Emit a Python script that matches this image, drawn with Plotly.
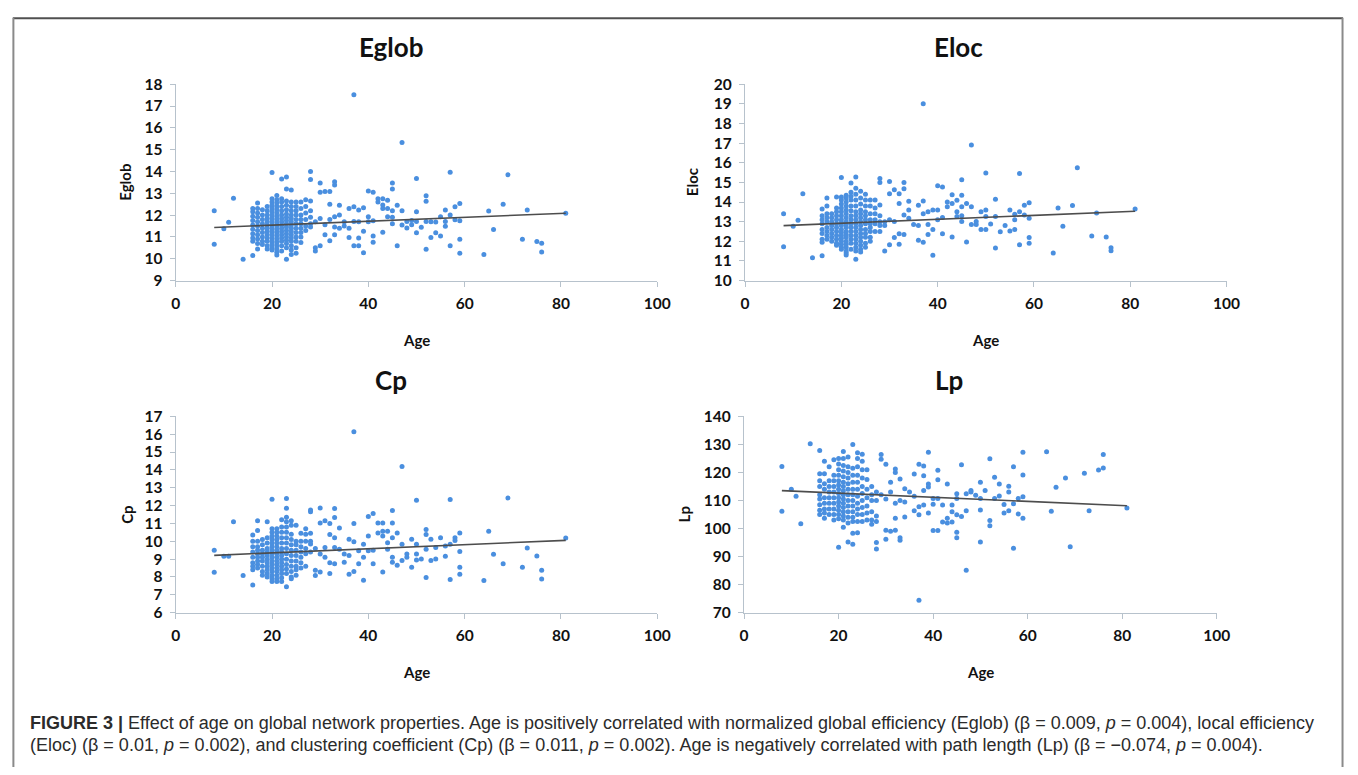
import plotly.graph_objects as go

W, H = 1358, 775

# ---------------- data ----------------
eglob = {
    8: [12.2, 10.67], 10: [11.38], 11: [11.67], 12: [12.77], 14: [9.98],
    16: [12.3, 12.15, 11.95, 11.75, 11.55, 11.35, 11.15, 10.95, 10.8, 10.15],
    17: [12.55, 12.3, 12.1, 11.9, 11.7, 11.5, 11.3, 11.1, 10.9, 10.7, 10.45],
    18: [12.25, 12.0, 11.8, 11.6, 11.4, 11.2, 11.0, 10.8, 10.65],
    19: [12.4, 12.2, 12.0, 11.85, 11.7, 11.55, 11.4, 11.25, 11.1, 10.95, 10.8, 10.6, 10.45],
    20: [13.95, 12.75, 12.6, 12.45, 12.3, 12.15, 12.0, 11.85, 11.7, 11.55, 11.4, 11.25, 11.1, 10.95, 10.8, 10.65, 10.5, 10.4],
    21: [12.9, 12.7, 12.55, 12.4, 12.25, 12.1, 11.95, 11.8, 11.65, 11.5, 11.35, 11.2, 11.05, 10.9, 10.75, 10.6, 10.45, 10.3, 10.17],
    22: [13.65, 12.75, 12.6, 12.4, 12.2, 12.0, 11.85, 11.7, 11.55, 11.4, 11.25, 11.1, 10.95, 10.8, 10.6, 10.35],
    23: [13.75, 13.2, 12.65, 12.45, 12.25, 12.05, 11.9, 11.75, 11.6, 11.45, 11.3, 11.15, 11.0, 10.85, 10.7, 10.5, 9.98],
    24: [13.15, 12.6, 12.4, 12.2, 12.0, 11.85, 11.7, 11.55, 11.4, 11.25, 11.1, 10.95, 10.8, 10.6, 10.4, 10.2],
    25: [12.6, 12.4, 12.2, 12.0, 11.8, 11.6, 11.4, 11.2, 11.0, 10.8, 10.5, 10.25],
    26: [12.6, 12.3, 12.0, 11.8, 11.6, 11.4, 11.2, 11.0, 10.75],
    27: [12.7, 12.4, 12.1, 11.8, 11.5, 11.3],
    28: [14.0, 13.63, 12.65, 12.2, 11.9, 11.6, 11.45],
    29: [11.7, 10.5, 10.35], 30: [13.47, 13.05, 11.85, 10.6], 31: [13.08, 11.56, 11.1],
    32: [13.08, 12.5, 11.8, 10.82], 33: [13.53, 13.38, 11.93, 11.45, 11.1], 34: [12.45, 12.0, 11.4],
    35: [11.7, 11.5], 36: [12.3, 11.4, 10.97], 37: [17.52, 12.38, 11.71, 10.6],
    38: [12.23, 11.7, 10.95, 10.6], 39: [12.34, 11.26, 10.28], 40: [13.1, 11.93, 11.7],
    41: [13.05, 11.74, 11.04, 10.76], 42: [12.75, 12.6], 43: [12.75, 12.46, 12.3, 11.22],
    44: [12.68, 12.3, 11.93], 45: [13.47, 13.2, 12.2, 11.9, 11.6], 46: [12.45, 10.6],
    47: [15.33, 12.2, 11.55], 48: [11.71, 11.41], 49: [11.56, 11.75],
    50: [13.68, 12.16, 11.71, 11.19], 51: [11.44], 52: [12.89, 12.63, 11.71, 10.44],
    53: [10.97, 11.7], 54: [11.68, 11.19], 55: [11.93, 11.04], 56: [12.23, 11.71, 11.49],
    57: [13.97, 12.0, 10.6], 58: [12.38, 11.79], 59: [12.53, 11.74, 10.89, 10.25],
    64: [10.19], 65: [12.19], 66: [11.34], 68: [12.5], 69: [13.85], 72: [10.89],
    73: [12.23], 75: [10.79], 76: [10.71, 10.31], 81: [12.08],
}

eloc = {
    8: [13.4, 11.72], 10: [12.77], 11: [13.07], 12: [14.42], 14: [11.16],
    16: [13.65, 13.3, 13.1, 12.9, 12.6, 12.4, 12.1, 11.95, 11.27],
    17: [14.2, 13.8, 13.4, 13.2, 13.0, 12.7, 12.5, 12.3, 12.1],
    18: [13.4, 13.2, 13.0, 12.8, 12.6, 12.4, 12.2, 12.0],
    19: [14.25, 13.7, 13.5, 13.3, 13.1, 12.9, 12.7, 12.5, 12.3, 12.1, 11.9, 11.8],
    20: [15.25, 14.25, 14.1, 13.9, 13.7, 13.5, 13.3, 13.1, 12.95, 12.8, 12.6, 12.45, 12.3, 12.15, 12.0, 11.85, 11.7, 11.6],
    21: [14.35, 14.2, 14.0, 13.8, 13.6, 13.4, 13.2, 13.0, 12.85, 12.7, 12.5, 12.35, 12.2, 12.0, 11.85, 11.7, 11.5, 11.4, 11.3],
    22: [14.97, 14.5, 14.3, 14.1, 13.8, 13.55, 13.3, 13.1, 12.9, 12.7, 12.5, 12.3, 12.1, 11.9, 11.6],
    23: [15.28, 14.7, 14.4, 14.1, 13.8, 13.5, 13.3, 13.1, 12.9, 12.7, 12.5, 12.3, 12.1, 11.9, 11.7, 11.5, 11.08],
    24: [14.55, 14.2, 13.9, 13.6, 13.4, 13.2, 13.0, 12.8, 12.6, 12.4, 12.2, 12.0, 11.8, 11.6, 11.45],
    25: [14.4, 14.1, 13.8, 13.5, 13.3, 13.1, 12.9, 12.6, 12.4, 12.2, 11.9, 11.7],
    26: [14.1, 13.8, 13.4, 13.1, 12.9, 12.7, 12.5, 12.2, 12.0],
    27: [14.1, 13.7, 13.4, 13.1, 12.9, 12.5],
    28: [15.2, 15.0, 13.85, 13.3, 13.0, 12.8, 12.5],
    29: [13.0, 12.8, 11.5], 30: [15.05, 14.42, 13.1, 11.82], 31: [14.62, 13.01, 12.19],
    32: [14.42, 13.92, 12.38, 11.85], 33: [15.0, 14.67, 13.34, 12.35], 34: [14.04, 13.59, 13.18],
    35: [12.85], 36: [13.84, 12.8, 12.05], 37: [19.0, 14.05, 13.4, 11.95],
    38: [13.51, 12.85, 12.35], 39: [13.59, 12.6, 11.29], 40: [14.83, 13.59, 13.1],
    41: [14.77, 13.21, 12.38], 42: [14.0, 13.76], 43: [14.37, 13.92, 12.22],
    44: [14.09, 13.51, 13.26], 45: [15.13, 14.34, 13.76, 13.3, 13.01], 46: [13.92, 11.97],
    47: [16.9, 13.76, 12.85], 48: [13.01, 12.85], 49: [13.51, 12.6],
    50: [15.48, 13.59, 13.26, 12.6], 51: [12.88], 52: [14.14, 13.26, 11.66],
    53: [12.48], 54: [12.81], 55: [13.59, 12.52], 56: [13.38, 13.1, 12.6],
    57: [15.45, 13.51, 11.82], 58: [13.84, 13.34], 59: [13.96, 13.18, 12.19, 11.9],
    64: [11.4], 65: [13.69], 66: [12.77], 68: [13.82], 69: [15.75], 72: [12.27],
    73: [13.44], 75: [12.22], 76: [11.67, 11.52], 81: [13.64],
}

cp = {
    8: [9.5, 8.26], 10: [9.16], 11: [9.16], 12: [11.1], 14: [8.08],
    16: [10.35, 10.0, 9.7, 9.4, 9.1, 8.8, 8.6, 8.4, 7.55],
    17: [11.15, 10.6, 10.0, 9.7, 9.5, 9.3, 9.1, 8.9, 8.7, 8.5],
    18: [10.1, 9.8, 9.5, 9.3, 9.1, 8.9, 8.6, 8.3, 8.1],
    19: [11.1, 10.2, 9.9, 9.6, 9.4, 9.2, 9.0, 8.8, 8.6, 8.4, 8.2, 8.0],
    20: [12.36, 10.7, 10.5, 10.3, 10.1, 9.9, 9.7, 9.5, 9.3, 9.1, 8.9, 8.7, 8.5, 8.3, 8.1, 7.9, 7.75],
    21: [10.7, 10.5, 10.3, 10.1, 9.9, 9.7, 9.5, 9.3, 9.1, 8.9, 8.7, 8.5, 8.3, 8.1, 7.9, 7.75],
    22: [11.2, 10.8, 10.5, 10.2, 9.9, 9.6, 9.4, 9.2, 9.0, 8.8, 8.6, 8.4, 8.2, 7.95, 7.75],
    23: [12.4, 11.85, 11.35, 11.1, 10.8, 10.5, 10.2, 9.9, 9.6, 9.3, 9.0, 8.7, 8.45, 8.2, 7.45],
    24: [11.15, 10.9, 10.4, 10.1, 9.8, 9.5, 9.2, 8.9, 8.6, 8.3, 8.0, 7.9],
    25: [10.9, 10.0, 9.8, 9.5, 9.2, 8.9, 8.6, 8.4, 8.1],
    26: [10.45, 10.0, 9.7, 9.4, 9.1, 8.8, 8.5],
    27: [10.7, 10.4, 10.0, 9.6, 9.3, 8.6],
    28: [11.75, 11.65, 10.45, 10.0, 9.85, 9.4],
    29: [9.6, 8.37, 8.08], 30: [11.86, 11.02, 9.29, 8.28], 31: [11.15, 9.65, 9.1],
    32: [10.99, 10.38, 8.8, 8.19], 33: [11.84, 11.33, 10.2, 9.65, 8.74], 34: [10.75, 9.56],
    35: [9.29, 8.83], 36: [10.11, 9.2, 8.15], 37: [16.14, 10.99, 9.98, 8.3],
    38: [9.47, 8.74], 39: [9.83, 9.1, 7.82], 40: [11.39, 10.3, 9.47],
    41: [11.55, 9.5, 8.74], 42: [11.02, 10.47], 43: [11.02, 10.56, 10.3, 8.28],
    44: [10.56, 9.92, 9.56], 45: [11.72, 11.02, 10.2, 9.1, 8.83], 46: [10.47, 8.65],
    47: [14.19, 9.83, 8.92], 48: [9.29, 9.1], 49: [10.11, 8.55],
    50: [12.3, 9.83, 9.29, 8.95], 51: [9.01], 52: [10.66, 10.38, 9.56, 7.97],
    53: [10.11, 8.92], 54: [9.65, 9.01], 55: [10.2], 56: [9.74, 9.16],
    57: [12.34, 9.83, 7.86], 58: [10.2, 10.05], 59: [10.47, 9.43, 8.55, 8.15],
    64: [7.8], 65: [10.56], 66: [9.27], 68: [8.74], 69: [12.43], 72: [8.55],
    73: [9.63], 75: [9.18], 76: [8.37, 7.88], 81: [10.18],
}

lp = {
    8: [122.1, 106.2], 10: [114.0], 11: [111.5], 12: [101.7], 14: [130.2],
    16: [127.8, 119.5, 117.0, 115.0, 112.0, 110.5, 108.5, 106.5, 105.0],
    17: [124.0, 119.5, 116.0, 114.0, 111.0, 109.0, 107.0, 105.5, 103.7],
    18: [122.0, 117.0, 115.0, 113.0, 111.0, 109.0, 107.0, 105.0],
    19: [124.5, 119.0, 117.0, 115.0, 113.0, 111.0, 109.0, 107.0, 105.0, 103.0],
    20: [125.0, 123.0, 121.0, 119.0, 117.0, 115.5, 114.0, 112.5, 111.0, 109.5, 108.0, 106.5, 105.0, 103.5, 93.3],
    21: [127.5, 125.0, 122.5, 120.5, 118.5, 116.5, 115.0, 113.5, 112.0, 110.5, 109.0, 107.5, 106.0, 104.5, 103.0, 100.5],
    22: [125.5, 122.0, 120.0, 118.0, 116.0, 114.0, 112.0, 110.0, 108.0, 106.0, 104.0, 102.0, 95.2],
    23: [130.0, 121.5, 119.0, 116.5, 114.0, 112.0, 110.0, 108.0, 106.0, 104.0, 102.5, 98.3, 94.4],
    24: [127.0, 125.0, 122.0, 119.0, 116.5, 114.0, 111.5, 109.0, 107.0, 105.0, 102.5, 98.5],
    25: [126.5, 124.0, 121.0, 118.0, 115.0, 112.5, 110.0, 107.5, 105.0, 102.5],
    26: [121.0, 117.5, 114.0, 111.0, 108.0, 105.5, 103.0],
    27: [115.0, 112.0, 110.0, 106.0, 103.0, 101.5],
    28: [113.0, 110.0, 104.5, 102.5, 95.0, 92.7],
    29: [126.4, 124.7, 112.0], 30: [122.9, 110.5, 99.4, 96.2], 31: [116.5, 113.0, 99.0],
    32: [121.2, 120.0, 109.0, 103.7, 99.4], 33: [117.7, 110.0, 96.7, 95.8], 34: [114.2, 109.5, 104.1],
    35: [113.0], 36: [119.4, 111.5, 106.3], 37: [122.9, 107.8, 104.9, 74.4],
    38: [122.3, 118.8, 113.6, 108.4], 39: [127.2, 115.9, 114.8, 105.5], 40: [110.7, 108.7, 99.3],
    41: [120.8, 117.4, 110.7, 99.3], 42: [108.4, 102.3], 43: [115.9, 103.7, 102.0],
    44: [108.4, 106.0, 102.3], 45: [112.4, 110.7, 104.9, 98.7, 96.7], 46: [122.7, 104.3],
    47: [112.4, 106.3, 85.1], 48: [113.6, 113.0], 49: [111.9],
    50: [116.5, 110.7, 106.6, 95.2], 51: [113.6], 52: [124.9, 102.9, 101.0],
    53: [118.3, 110.7], 54: [115.9, 111.6], 55: [108.6, 105.5], 56: [115.1, 113.0, 106.3],
    57: [122.0, 108.8, 93.0], 58: [110.7, 105.2], 59: [127.2, 119.1, 111.3, 103.7],
    64: [127.4], 65: [106.2], 66: [114.7], 68: [118.0], 69: [93.5], 72: [119.7],
    73: [106.3], 75: [120.9], 76: [126.4, 121.6], 81: [107.3],
}

# regression lines: slope beta (from caption), intercept
panel_names = ["Eglob", "Eloc", "Cp", "Lp"]
betas = [0.009, 0.010, 0.0115, -0.074]
intercepts = [11.36, 12.72, 9.12, 114.1]
y_ranges = [(9, 18), (10, 20), (6, 17), (70, 140)]
y_dticks = [1, 1, 1, 10]
x_ticks = [0, 20, 40, 60, 80, 100]

# ---------------- layout helpers ----------------
def px(x):
    return x / W

def py(y):
    return 1 - y / H

# axis boxes in page pixels: (left, right, top, bottom)
boxes = [(173, 661, 76, 277), (750, 1238, 76, 277),
         (173, 661, 416, 617), (749, 1228, 416, 617)]
title_pos = [(391, 38), (966, 38), (391, 379), (957, 379)]
ytitle_x = [122, 697, 123, 688]

DOT = "#4a8fdf"
AXC = "#b7c2cc"
FONT = "Lato"

fig = go.Figure()
datasets = [eglob, eloc, cp, lp]
for i, d in enumerate(datasets):
    xs, ys = [], []
    for age, vals in d.items():
        for v in vals:
            xs.append(age)
            ys.append(v)
    xa = "x" if i == 0 else f"x{i+1}"
    ya = "y" if i == 0 else f"y{i+1}"
    fig.add_trace(go.Scatter(x=xs, y=ys, mode="markers", xaxis=xa, yaxis=ya,
                             marker=dict(color=DOT, size=5, line=dict(width=0)),
                             showlegend=False, hoverinfo="x+y"))
    a0, a1 = min(xs), max(xs)
    fig.add_trace(go.Scatter(x=[a0, a1],
                             y=[intercepts[i] + betas[i] * a0, intercepts[i] + betas[i] * a1],
                             mode="lines", xaxis=xa, yaxis=ya,
                             line=dict(color="#4d4d4d", width=1.6),
                             showlegend=False, hoverinfo="skip"))

layout = dict(width=W, height=H, margin=dict(l=0, r=0, t=0, b=0),
              paper_bgcolor="white", plot_bgcolor="white", showlegend=False)
annotations = []
for i in range(4):
    l, r, t, b = boxes[i]
    sfx = "" if i == 0 else str(i + 1)
    layout["xaxis" + sfx] = dict(
        domain=[px(l), px(r)], anchor="y" + sfx, range=[0, 100],
        tickmode="array", tickvals=x_ticks, ticktext=[str(v) for v in x_ticks],
        ticks="outside", ticklen=5, tickcolor=AXC, tickwidth=1,
        showline=True, linecolor=AXC, linewidth=1.3, showgrid=False, zeroline=False,
        tickfont=dict(family=FONT, size=15.5, color="#111", weight="bold"),
        ticklabelstandoff=4)
    y0, y1 = y_ranges[i]
    layout["yaxis" + sfx] = dict(
        domain=[py(b), py(t)], anchor="x" + sfx, range=[y0, y1],
        tick0=y0, dtick=y_dticks[i],
        ticks="outside", ticklen=5, tickcolor=AXC, tickwidth=1,
        showline=True, linecolor=AXC, linewidth=1.3, showgrid=False, zeroline=False,
        tickfont=dict(family=FONT, size=15.5, color="#111", weight="bold"),
        ticklabelstandoff=4)
    tx, ty = title_pos[i]
    annotations.append(dict(text=f"<b>{panel_names[i]}</b>", x=px(tx), y=py(ty),
                            xref="paper", yref="paper", showarrow=False,
                            xanchor="center", yanchor="middle",
                            font=dict(family=FONT, size=26, color="#111")))
    annotations.append(dict(text="<b>Age</b>", x=px((l + r) / 2), y=py(b + 61),
                            xref="paper", yref="paper", showarrow=False,
                            xanchor="center", yanchor="middle",
                            font=dict(family=FONT, size=15, color="#111")))
    annotations.append(dict(text=f"<b>{panel_names[i]}</b>", x=px(ytitle_x[i]),
                            y=py((t + b) / 2), xref="paper", yref="paper",
                            showarrow=False, textangle=-90,
                            xanchor="center", yanchor="middle",
                            font=dict(family=FONT, size=15, color="#111")))

cap1 = ("<b>FIGURE 3 |</b> Effect of age on global network properties. Age is positively "
        "correlated with normalized global efficiency (Eglob) (β = 0.009, <i>p</i> = 0.004), local efficiency")
cap2 = ("(Eloc) (β = 0.01, <i>p</i> = 0.002), and clustering coefficient (Cp) (β = 0.011, "
        "<i>p</i> = 0.002). Age is negatively correlated with path length (Lp) (β = −0.074, <i>p</i> = 0.004).")
for txt, yy in [(cap1, 730), (cap2, 752)]:
    annotations.append(dict(text=txt, x=px(23), y=py(yy), xref="paper", yref="paper",
                            showarrow=False, xanchor="left", yanchor="middle",
                            font=dict(family="Liberation Sans", size=18, color="#2b2b2b")))

layout["annotations"] = annotations
layout["shapes"] = [
    dict(type="line", xref="paper", yref="paper", x0=px(8), x1=px(1356), y0=py(8.5), y1=py(8.5),
         line=dict(color="#505050", width=2)),
    dict(type="line", xref="paper", yref="paper", x0=px(8.5), x1=px(8.5), y0=py(8), y1=0,
         line=dict(color="#8a8a8a", width=2)),
    dict(type="line", xref="paper", yref="paper", x0=px(1355.5), x1=px(1355.5), y0=py(8), y1=0,
         line=dict(color="#8a8a8a", width=2)),
]
fig.update_layout(**layout)
fig.write_html("out.html", config={"displayModeBar": False},
               post_script="document.body.style.margin='0';document.body.style.overflow='hidden';")
